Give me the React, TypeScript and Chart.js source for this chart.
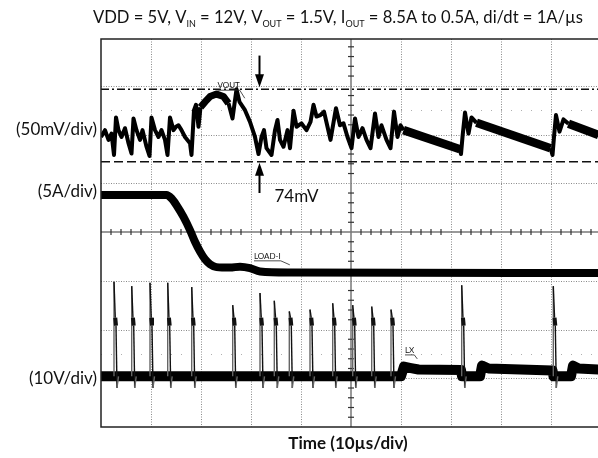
import React, { useEffect, useRef } from 'react';
import { Chart, registerables } from 'chart.js';

Chart.register(...registerables);

// Screen: 10 µs/div horizontally, values in divisions vertically (centre = 0)
const timeMin = -50;
const timeMax = 49.4;
const divMin = -4;
const divMax = 3.96;

// VOUT (50mV/div)
const voutTime = [
  -50, -49.2, -48.5, -47.9, -47.4, -47.0, -46.5, -45.9, -45.2, -44.5, -43.9, -43.5, -42.9, -42.2, -41.7,
  -40.9, -40.3, -39.9, -39.2, -38.5, -37.9, -37.2, -36.7, -36.2, -35.5, -35.0, -34.5, -33.9, -33.2, -32.2,
  -31.9, -31.4, -31.0, -30.5, -30.1, -29.2, -28.2, -26.9, -25.5, -24.5, -23.7, -22.9, -22.3, -21.9, -21.2,
  -20.2, -19.2, -18.5, -17.9, -17.4, -16.9, -15.9, -15.2, -14.7, -14.2, -13.5, -12.7, -12.2, -11.5, -10.9,
  -9.9, -8.9, -8.1, -7.5, -6.9, -6.1, -5.4, -4.7, -4.1, -3.0, -2.2, -1.5, -0.7, 0.1, 0.8, 1.5, 2.3, 3.1,
  3.9, 4.8, 5.5, 6.1, 7.1, 7.9, 8.6, 9.3, 9.9, 10.5, 21.8, 22.0, 22.3, 22.8, 23.5, 24.1, 25.1, 39.9, 40.3,
  40.6, 41.0, 41.7, 42.5, 43.5, 49.5,
];
const voutDiv = [
  1.95, 2.09, 1.89, 2.02, 1.58, 2.35, 2.09, 1.95, 2.13, 1.82, 1.61, 2.33, 2.09, 1.89, 2.09,
  1.75, 1.56, 2.35, 2.09, 1.95, 2.09, 1.89, 1.58, 2.35, 2.09, 2.16, 2.19, 2.09, 1.95, 1.82,
  1.58, 2.5, 2.61, 2.16, 2.56, 2.67, 2.78, 2.83, 2.78, 2.64, 2.33, 2.93, 2.67, 2.61, 2.5,
  2.26, 1.95, 1.6, 1.95, 2.09, 1.72, 1.58, 2.09, 2.3, 1.89, 1.75, 2.09, 1.72, 2.49, 2.16,
  2.23, 2.09, 2.26, 2.61, 2.37, 2.4, 2.47, 2.16, 1.89, 2.54, 2.19, 2.23, 1.95, 1.72, 2.33, 1.95, 2.13, 1.89,
  1.72, 2.43, 1.95, 2.19, 1.89, 1.72, 2.47, 1.95, 2.19, 2.09, 1.7, 1.6, 1.95, 2.45, 2.02, 2.35, 2.24, 1.72, 1.58,
  1.95, 2.4, 2.06, 2.31, 2.22, 1.99,
];

// LOAD-I (5A/div)
const loadTime = [-50, -36.9, -35.9, -34.9, -33.5, -32.2, -31.2, -30.2, -29.2, -28.2, -26.9, -24.2, -22.2, -20.2, -18.2, -12.2, 49.5];
const loadDiv = [0.76, 0.76, 0.69, 0.55, 0.31, 0.04, -0.2, -0.4, -0.56, -0.66, -0.72, -0.73, -0.71, -0.74, -0.81, -0.83, -0.84];

// LX (10V/div) baseline
const lxBaseTime = [-50, 10.0, 10.6, 12, 13.5, 22.0, 22.2, 25.8, 26.2, 27.5, 40.3, 40.5, 44.0, 44.4, 45.5, 49.5];
const lxBaseDiv = [-2.96, -2.96, -2.76, -2.79, -2.82, -2.83, -2.96, -2.96, -2.74, -2.8, -2.84, -2.96, -2.96, -2.74, -2.8, -2.82];

// LX switching spikes
const lxSpikeTime = [-47.4, -43.86, -40.2, -36.66, -31.86, -23.66, -18.2, -15.34, -12.34, -8.2, -3.66, 0.34, 4.14, 8.0, 22.14, 40.46];
const lxSpikePeak = [-1.02, -1.11, -1.04, -1.04, -1.13, -1.5, -1.25, -1.41, -1.63, -1.59, -1.46, -1.5, -1.53, -1.59, -1.09, -1.11];
const lxSpikeShelf = -1.76;
const lxUndershoot = -3.2;

// Cursors
const cursorHigh = 2.93;
const cursorLow = 1.44;

const titleParts: [string, boolean][] = [
  ['VDD = 5V, V', false], ['IN', true], [' = 12V, V', false], ['OUT', true], [' = 1.5V, I', false], ['OUT', true],
  [' = 8.5A to 0.5A, di/dt = 1A/µs', false],
];
const channelLabels = ['(50mV/div)', '(5A/div)', '(10V/div)'];
const channelLevels = [2.11, 0.84, -3.0];
const xTitle = 'Time (10µs/div)';
const deltaLabel = '74mV';
const arrowTime = -18.3;

const FONT = 'Lato, "Open Sans", sans-serif';

const zip = (xs: number[], ys: number[]) => xs.map((x, i) => ({ x, y: ys[i] }));

function buildSpikes() {
  const pts: any[] = [];
  lxSpikeTime.forEach((t, i) => {
    pts.push({ x: t, y: -2.96 });
    pts.push({ x: t, y: lxSpikePeak[i] });
    pts.push({ x: t + 0.25, y: lxSpikeShelf });
    pts.push({ x: t + 0.4, y: lxSpikeShelf - 0.16 });
    pts.push({ x: t + 0.6, y: lxUndershoot });
    pts.push({ x: t + 0.9, y: -2.96 });
    pts.push({ x: t + 0.95, y: null });
  });
  return pts;
}

const gridPlugin = {
  id: 'scopeGrid',
  beforeDatasetsDraw(chart: any) {
    const { ctx, chartArea: a, scales } = chart;
    const xs = scales.x, ys = scales.y;
    ctx.save();
    ctx.strokeStyle = '#8a8a8a';
    ctx.lineWidth = 1;
    ctx.setLineDash([1, 1.5]);
    for (let t = -40; t <= 40; t += 10) {
      if (t === 0) continue;
      const px = Math.round(xs.getPixelForValue(t)) + 0.5;
      ctx.beginPath(); ctx.moveTo(px, a.top); ctx.lineTo(px, a.bottom); ctx.stroke();
    }
    for (let d = -3; d <= 3; d += 1) {
      if (d === 0) continue;
      const py = Math.round(ys.getPixelForValue(d)) + 0.5;
      ctx.beginPath(); ctx.moveTo(a.left, py); ctx.lineTo(a.right, py); ctx.stroke();
    }
    ctx.strokeStyle = '#b0b0b0';
    ctx.setLineDash([1, 9]);
    [2.5, -2.5].forEach((d) => {
      const py = Math.round(ys.getPixelForValue(d)) + 0.5;
      ctx.beginPath(); ctx.moveTo(a.left, py); ctx.lineTo(a.right, py); ctx.stroke();
    });
    ctx.setLineDash([]);
    ctx.strokeStyle = '#777';
    ctx.lineWidth = 1.5;
    const cx = xs.getPixelForValue(0);
    const cy = ys.getPixelForValue(0);
    ctx.beginPath(); ctx.moveTo(cx, a.top); ctx.lineTo(cx, a.bottom); ctx.stroke();
    ctx.beginPath(); ctx.moveTo(a.left, cy); ctx.lineTo(a.right, cy); ctx.stroke();
    ctx.strokeStyle = '#333';
    ctx.lineWidth = 1.2;
    for (let t = -50; t <= 50; t += 2) {
      if (t % 10 === 0) continue;
      const px = xs.getPixelForValue(t);
      if (px < a.left || px > a.right) continue;
      ctx.beginPath(); ctx.moveTo(px, cy - 3); ctx.lineTo(px, cy + 3); ctx.stroke();
    }
    for (let d = -4; d <= 4; d += 0.2) {
      const r = Math.round(d * 10) / 10;
      if (Math.abs(r - Math.round(r)) < 0.01) continue;
      const py = ys.getPixelForValue(r);
      if (py < a.top || py > a.bottom) continue;
      ctx.beginPath(); ctx.moveTo(cx - 3, py); ctx.lineTo(cx + 3, py); ctx.stroke();
    }
    ctx.restore();
  },
  afterDatasetsDraw(chart: any) {
    const { ctx, chartArea: a, scales } = chart;
    const xs = scales.x, ys = scales.y;
    ctx.save();
    ctx.strokeStyle = '#222';
    ctx.lineWidth = 1.5;
    ctx.strokeRect(a.left, a.top, a.right - a.left + 4, a.bottom - a.top);

    const ax = xs.getPixelForValue(arrowTime);
    const drawArrow = (fromY: number, toY: number) => {
      const y0 = ys.getPixelForValue(fromY);
      const y1 = ys.getPixelForValue(toY);
      const dir = y1 > y0 ? 1 : -1;
      ctx.strokeStyle = '#000';
      ctx.fillStyle = '#000';
      ctx.lineWidth = 2;
      ctx.beginPath(); ctx.moveTo(ax, y0); ctx.lineTo(ax, y1 - dir * 10); ctx.stroke();
      ctx.beginPath();
      ctx.moveTo(ax, y1);
      ctx.lineTo(ax - 4.5, y1 - dir * 13);
      ctx.lineTo(ax + 4.5, y1 - dir * 13);
      ctx.closePath(); ctx.fill();
    };
    drawArrow(3.62, 2.97);
    drawArrow(0.8, 1.42);

    ctx.fillStyle = '#111';
    ctx.font = `17px ${FONT}`;
    ctx.textAlign = 'left';
    ctx.textBaseline = 'middle';
    ctx.fillText(deltaLabel, ax + 15, ys.getPixelForValue(0.72));

    const smallLabel = (text: string, t: number, d: number, lead: [number, number]) => {
      const px = xs.getPixelForValue(t);
      const py = ys.getPixelForValue(d);
      ctx.font = `8px ${FONT}`;
      ctx.textAlign = 'left';
      ctx.textBaseline = 'alphabetic';
      ctx.fillStyle = '#111';
      ctx.fillText(text, px, py);
      const w = ctx.measureText(text).width;
      ctx.strokeStyle = '#222';
      ctx.lineWidth = 0.8;
      ctx.beginPath();
      ctx.moveTo(px, py + 2); ctx.lineTo(px + w, py + 2);
      ctx.lineTo(px + w + lead[0], py + 2 + lead[1]);
      ctx.stroke();
    };
    smallLabel('VOUT', -26.7, 2.95, [5, 8]);
    smallLabel('LOAD-I', -19.4, -0.55, [9, 4]);
    smallLabel('LX', 10.8, -2.48, [3, 4]);

    ctx.font = `17px ${FONT}`;
    ctx.textAlign = 'right';
    ctx.textBaseline = 'middle';
    ctx.fillStyle = '#111';
    channelLabels.forEach((s, i) => ctx.fillText(s, a.left - 4, ys.getPixelForValue(channelLevels[i])));

    const big = `16.6px ${FONT}`;
    const small = `9px ${FONT}`;
    let total = 0;
    titleParts.forEach(([s, sub]) => { ctx.font = sub ? small : big; total += ctx.measureText(s).width; });
    let x = 338 - total / 2;
    const by = 23;
    ctx.textAlign = 'left';
    ctx.textBaseline = 'alphabetic';
    titleParts.forEach(([s, sub]) => {
      ctx.font = sub ? small : big;
      ctx.fillText(s, x, sub ? by + 4 : by);
      x += ctx.measureText(s).width;
    });

    ctx.font = `bold 17px ${FONT}`;
    ctx.textAlign = 'center';
    ctx.textBaseline = 'middle';
    ctx.fillText(xTitle, xs.getPixelForValue(-0.6), a.bottom + 17);
    ctx.restore();
  },
};

export default function App() {
  const ref = useRef<HTMLCanvasElement>(null);
  useEffect(() => {
    if (!ref.current) return;
    const chart = new Chart(ref.current, {
      type: 'line',
      data: {
        datasets: [
          {
            label: 'cursor high',
            data: [{ x: timeMin, y: cursorHigh }, { x: timeMax, y: cursorHigh }],
            borderColor: '#111', borderWidth: 1.5, borderDash: [8, 3, 2, 3], pointRadius: 0,
          },
          {
            label: 'cursor low',
            data: [{ x: timeMin, y: cursorLow }, { x: timeMax, y: cursorLow }],
            borderColor: '#111', borderWidth: 1.5, borderDash: [9, 4], pointRadius: 0,
          },
          {
            label: 'LX spikes',
            data: buildSpikes(),
            borderColor: '#333', borderWidth: 1.4, pointRadius: 0, spanGaps: false,
            segment: {
              borderWidth: (c: any) => {
                const y0 = c.p0.parsed.y, y1 = c.p1.parsed.y;
                return y0 <= -1.7 && y0 >= -2.0 && y1 <= -1.7 && y1 >= -2.0 ? 4 : 1.4;
              },
              borderColor: (c: any) => (c.p1.parsed.y > c.p0.parsed.y ? '#666' : '#111'),
            },
          },
          {
            label: 'LX',
            data: zip(lxBaseTime, lxBaseDiv),
            borderColor: '#000', borderWidth: 10, pointRadius: 0, borderJoinStyle: 'round',
          },
          {
            label: 'LOAD-I',
            data: zip(loadTime, loadDiv),
            borderColor: '#000', borderWidth: 8, pointRadius: 0, cubicInterpolationMode: 'monotone',
          },
          {
            label: 'VOUT',
            data: zip(voutTime, voutDiv),
            borderColor: '#000', borderWidth: 4, pointRadius: 0, borderJoinStyle: 'round',
            segment: {
              borderWidth: (c: any) => {
                const x0 = c.p0.parsed.x, x1 = c.p1.parsed.x;
                if (x1 - x0 > 3) return 8.5;
                if (x0 >= -30.2 && x1 <= -24) return 7;
                return 4;
              },
            },
          },
        ],
      },
      options: {
        responsive: true,
        maintainAspectRatio: false,
        animation: false,
        events: [],
        layout: { padding: { left: 101, right: 0, top: 39, bottom: 31 } },
        plugins: { legend: { display: false }, tooltip: { enabled: false }, title: { display: false } },
        scales: {
          x: { type: 'linear', min: timeMin, max: timeMax, display: false },
          y: { type: 'linear', min: divMin, max: divMax, display: false },
        },
      } as any,
      plugins: [gridPlugin],
    });
    return () => chart.destroy();
  }, []);
  return (
    <div style={{ position: 'absolute', left: 0, top: 0, width: 598, height: 458, background: '#fff' }}>
      <canvas ref={ref} />
    </div>
  );
}
